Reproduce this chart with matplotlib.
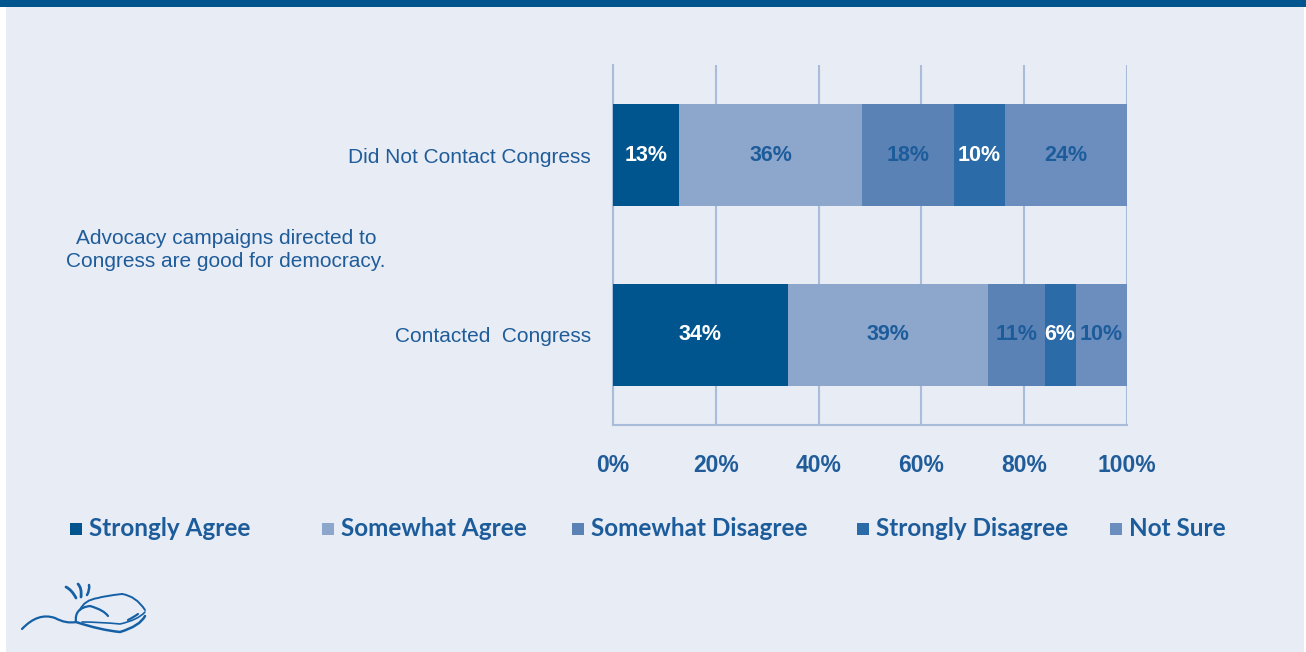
import matplotlib
matplotlib.use("Agg")
import matplotlib.pyplot as plt
import numpy as np
from matplotlib.path import Path
from matplotlib.patches import PathPatch, Rectangle

# ---- data ----
groups = ["Contacted  Congress", "Did Not Contact Congress"]
categories = ["Strongly Agree", "Somewhat Agree", "Somewhat Disagree", "Strongly Disagree", "Not Sure"]
contacted = [34, 39, 11, 6, 10]
not_contacted = [13, 36, 18, 10, 24]
xtick_vals = [0, 20, 40, 60, 80, 100]
xtick_labels = ["0%", "20%", "40%", "60%", "80%", "100%"]
side_note = "Advocacy campaigns directed to\nCongress are good for democracy."

colors = ["#00558F", "#8CA6CC", "#5A82B5", "#2A6BA8", "#6B8EBF"]
label_colors = ["white", "#1D5C9B", "#1D5C9B", "white", "#1D5C9B"]
TXT = "#1F5C99"
BG = "#E8ECF5"

fig = plt.figure(figsize=(13.06, 6.52), dpi=100)
fig.patch.set_facecolor("white")

# decoration layer (pixel coordinates)
deco = fig.add_axes([0, 0, 1, 1])
deco.set_xlim(0, 1306)
deco.set_ylim(652, 0)
deco.axis("off")
deco.add_patch(Rectangle((6, 0), 1298, 652, facecolor=BG, edgecolor="none"))
deco.add_patch(Rectangle((0, 0), 1306, 7, facecolor="#00558F", edgecolor="none"))

# logo approximation
logo_c = "#1560A5"
def curve(pts, lw):
    codes = [Path.MOVETO] + [Path.CURVE3] * (len(pts) - 1)
    deco.add_patch(PathPatch(Path(pts, codes), facecolor="none", edgecolor=logo_c, lw=lw, capstyle="round"))
curve([(22, 629), (38, 612), (55, 618), (66, 624), (76, 622)], 1.6)
curve([(76, 622), (100, 630), (120, 632), (140, 626), (145, 616)], 1.8)
curve([(76, 622), (74, 608), (90, 606), (104, 610), (108, 616)], 1.6)
curve([(80, 610), (84, 600), (98, 598), (104, 596), (122, 594)], 1.4)
curve([(122, 594), (136, 596), (145, 610)], 1.4)
curve([(82, 622), (100, 622), (120, 624), (138, 620), (145, 612)], 1.2)
curve([(128, 620), (134, 617), (138, 614)], 1.6)
curve([(66, 587), (72, 590), (76, 598)], 2.0)
curve([(78, 584), (82, 588), (81, 597)], 2.0)
curve([(89, 585), (90, 590), (87, 595)], 1.8)

# ---- chart ----
ax = fig.add_axes([613 / 1306, (652 - 425) / 652, 514 / 1306, 360 / 652])
ax.set_facecolor("none")
rows = [contacted, not_contacted]
ypos = np.arange(len(groups))
for yi, vals in zip(ypos, rows):
    total = sum(vals)
    left = 0.0
    for k, v in enumerate(vals):
        w = v / total * 100
        ax.barh(yi, w, left=left, height=0.57, color=colors[k], edgecolor="none", zorder=3)
        ax.text(left + w / 2, yi, f"{v}%", ha="center", va="center", fontsize=15.5,
                fontweight="bold", color=label_colors[k], family="Liberation Sans", zorder=4)
        left += w

ax.set_xlim(0, 100)
ax.set_ylim(-0.505, 1.505)
ax.set_xticks(xtick_vals)
ax.set_xticklabels(xtick_labels)
ax.set_yticks(ypos)
ax.set_yticklabels(groups)
ax.grid(axis="x", color="#A9BCD9", lw=1.5, zorder=1)
for s in ["top", "right"]:
    ax.spines[s].set_visible(False)
for s in ["left", "bottom"]:
    ax.spines[s].set_color("#A9BCD9")
    ax.spines[s].set_linewidth(1.5)
ax.tick_params(axis="x", length=0, pad=21, labelsize=16.5, labelcolor=TXT)
ax.tick_params(axis="y", length=0, pad=16, labelsize=15, labelcolor=TXT)
for t in ax.get_xticklabels():
    t.set_fontweight("bold")
    t.set_family("Liberation Sans")
for t in ax.get_yticklabels():
    t.set_family("Liberation Sans")

deco.text(226, 250, side_note, ha="center", va="center", fontsize=15, color=TXT,
          family="Liberation Sans", linespacing=1.3)

# legend (manual)
leg_sq_x = [70, 322, 572, 857, 1110]
for k, cat in enumerate(categories):
    deco.add_patch(Rectangle((leg_sq_x[k], 523), 12, 12, facecolor=colors[k], edgecolor="none"))
    deco.text(leg_sq_x[k] + 19, 529, cat, ha="left", va="center", fontsize=17.5,
              fontweight="bold", color="#1D5C9B", family="Lato")

fig.savefig("out.png", dpi=100, facecolor=fig.get_facecolor())
